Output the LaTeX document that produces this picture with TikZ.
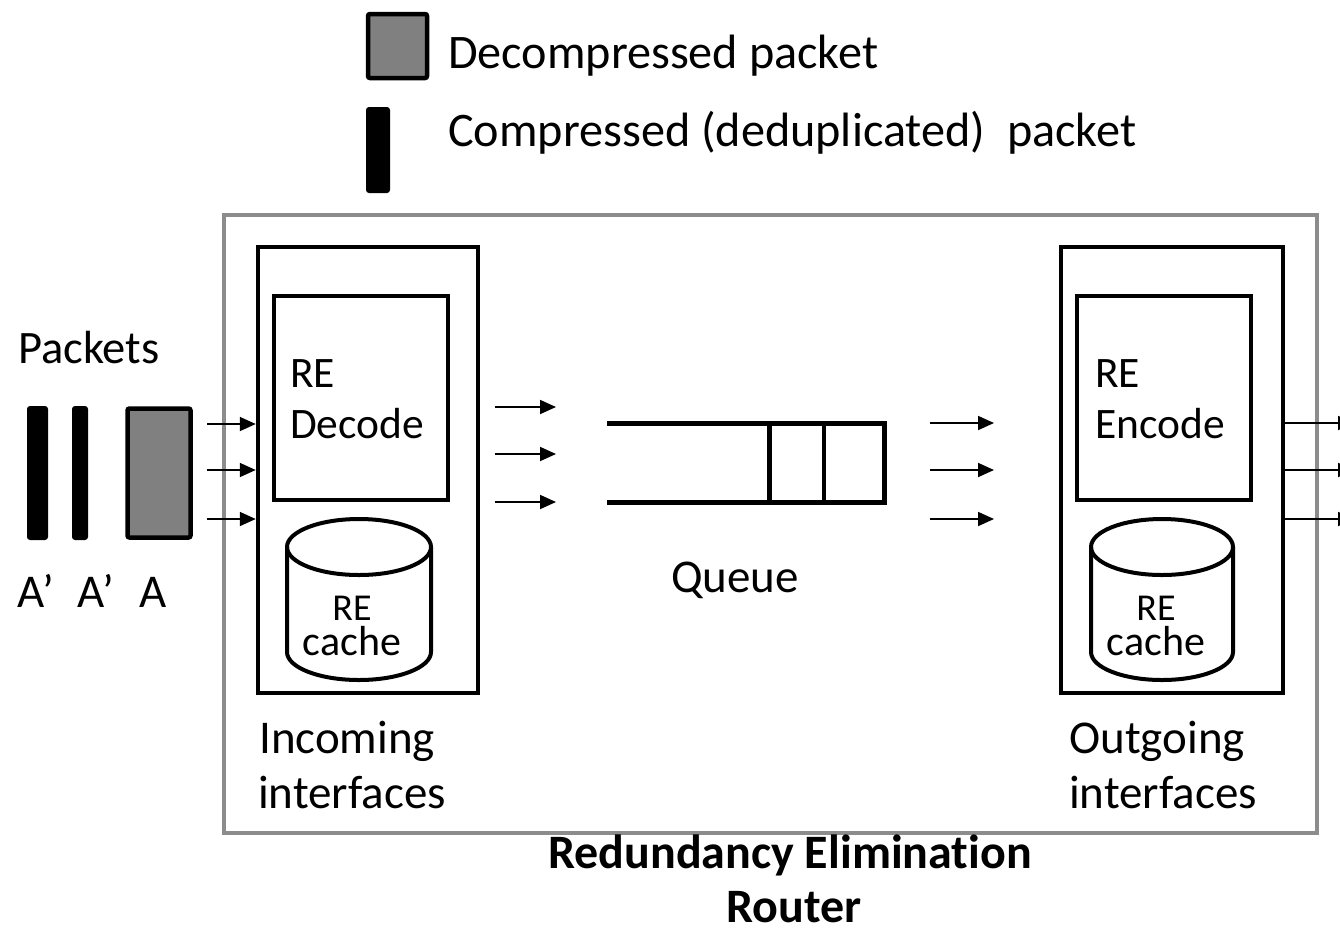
\documentclass[tikz,border=0pt]{standalone}
\usepackage{fontspec}
\setmainfont{Carlito}[Ligatures={TeX,NoCommon}]
\usetikzlibrary{arrows.meta}

\tikzset{
  box/.style={draw=black, line width=4.5pt, inner sep=0pt},
  router/.style={draw=black!45, line width=4pt, inner sep=0pt},
  lbl/.style={inner sep=0pt, font=\fontsize{47}{54}\selectfont},
  legendlbl/.style={inner sep=0pt, font=\fontsize{48.2}{54}\selectfont},
  boxlbl/.style={inner sep=0pt, font=\fontsize{43.5}{50}\selectfont},
  cachelbl/.style={inner sep=0pt, align=center, font=\fontsize{42}{35}\selectfont},
  titlelbl/.style={inner sep=0pt, font=\bfseries\fontsize{48}{54}\selectfont},
  flow/.style={line width=1.8pt, -{Triangle[length=16pt,width=14pt]}},
  fullpkt/.style={draw=black, fill=black!50, line width=4.5pt, rounded corners=2pt, inner sep=0pt},
  thinpkt/.style={fill=black, rounded corners=3pt, inner sep=0pt},
  queueline/.style={line width=5pt},
}
\newcommand{\cacheRE}{{\fontsize{38}{35}\selectfont RE}}

\begin{document}
\begin{tikzpicture}[x=1pt, y=-1pt]
  \useasboundingbox (0,0) rectangle (1340,935);
  \clip (0,0) rectangle (1340,935);

  % legend
  \node[fullpkt, minimum width=59pt, minimum height=64pt] (legfull) at (397.5,46) {};
  \node[thinpkt, minimum width=24pt, minimum height=86pt] (legthin) at (378,150) {};
  \node[legendlbl, anchor=base west] (legfulltxt) at (448,68) {Decompressed packet};
  \node[legendlbl, anchor=base west] (legthintxt) at (448,146) {Compressed (deduplicated)\ \ packet};

  % router frame
  \node[router, minimum width=1093pt, minimum height=618pt] (routerbox) at (770.5,524) {};
  \node[titlelbl, anchor=base] (title1) at (790,868) {Redundancy Elimination};
  \node[titlelbl, anchor=base] (title2) at (794,922) {Router};

  % incoming packets
  \node[lbl, font=\fontsize{46.5}{54}\selectfont, anchor=base west] (pkttxt) at (18,363) {Packets};
  \node[thinpkt, minimum width=21pt, minimum height=134pt] (pktA1) at (37.5,473) {};
  \node[thinpkt, minimum width=16pt, minimum height=134pt] (pktA2) at (80,473) {};
  \node[fullpkt, minimum width=63pt, minimum height=129pt] (pktA) at (159,473) {};
  \node[lbl, anchor=base west] (lblA1) at (17,607) {A’};
  \node[lbl, anchor=base west] (lblA2) at (77,607) {A’};
  \node[lbl, anchor=base west] (lblA) at (139,607) {A};

  % incoming interface
  \node[box, minimum width=220pt, minimum height=446pt] (inif) at (368,470) {};
  \node[box, minimum width=174pt, minimum height=204pt] (decode) at (361,398) {};
  \node[boxlbl, anchor=base west] (decodeRE) at (290,387) {RE};
  \node[boxlbl, anchor=base west] (decodetxt) at (290,438) {Decode};
  \draw[line width=4pt] (287,547) -- (287,652) arc[start angle=180, end angle=360, x radius=72pt, y radius=28pt] -- (431,547);
  \draw[line width=4pt] (359,547) ellipse[x radius=72pt, y radius=28pt];
  \node[cachelbl, anchor=base] (cacheintxt) at (352,655) {\cacheRE\\cache};
  \node[lbl, anchor=base west] (intxt1) at (259,753) {Incoming};
  \node[lbl, anchor=base west] (intxt2) at (258,808) {interfaces};

  % outgoing interface
  \node[box, minimum width=222pt, minimum height=446pt] (outif) at (1172,470) {};
  \node[box, minimum width=174pt, minimum height=204pt] (encode) at (1164,398) {};
  \node[boxlbl, anchor=base west] (encodeRE) at (1095,387) {RE};
  \node[boxlbl, anchor=base west] (encodetxt) at (1095,438) {Encode};
  \draw[line width=4pt] (1091,547) -- (1091,652) arc[start angle=180, end angle=360, x radius=71pt, y radius=28pt] -- (1233,547);
  \draw[line width=4pt] (1162,547) ellipse[x radius=71pt, y radius=28pt];
  \node[cachelbl, anchor=base] (cacheouttxt) at (1156,655) {\cacheRE\\cache};
  \node[lbl, anchor=base west] (outtxt1) at (1069,753) {Outgoing};
  \node[lbl, anchor=base west] (outtxt2) at (1069,808) {interfaces};

  % queue
  \draw[queueline] (607,423) -- (884,423) -- (884,502) -- (607,502);
  \draw[queueline] (769,423) -- (769,502);
  \draw[line width=4pt] (824,423) -- (824,502);
  \node[lbl, anchor=base] (queuetxt) at (735,592) {Queue};

  % flow arrows
  \foreach \y in {424,470,519}
    \draw[flow] (207,\y) -- (inif.west |- 0,\y);
  \foreach \y in {407,454,502}
    \draw[flow] (inif.east |- 493,\y) ++(15,0) -- (556,\y);
  \foreach \y in {423,470,519}
    \draw[flow] (930,\y) -- (994,\y);
  \foreach \y in {423,470,519}
    \draw[flow] (outif.east |- 0,\y) -- (1354,\y);
\end{tikzpicture}
\end{document}
